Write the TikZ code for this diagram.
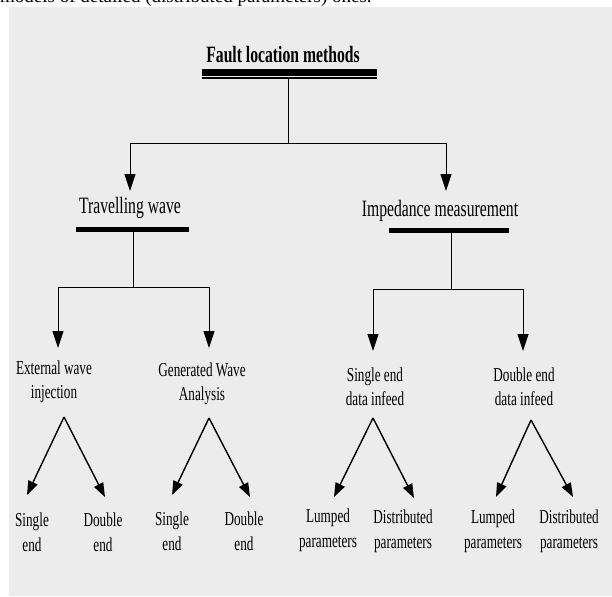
\documentclass[tikz,border=0pt]{standalone}
\usepackage{fontspec}
\setmainfont{Liberation Serif}
\newfontfamily\narrowfont{Liberation Serif}[FakeStretch=0.67]
\usetikzlibrary{arrows.meta}
\definecolor{paper}{HTML}{ECECEC}

\begin{document}
\begin{tikzpicture}[x=1pt, y=-1pt]
  \tikzstyle{caption} = [font=\fontsize{19}{22}\selectfont, anchor=base west, inner sep=0pt]
  \tikzstyle{heading} = [font=\narrowfont\fontsize{23.4}{26}\selectfont, anchor=base, inner sep=0pt]
  \tikzstyle{method} = [font=\narrowfont\fontsize{19.7}{23.5}\selectfont, align=center, anchor=base, inner sep=0pt]
  \tikzstyle{leaf} = [font=\narrowfont\fontsize{19.7}{25}\selectfont, align=center, anchor=base, inner sep=0pt]
  \tikzstyle{tree} = [line width=0.8pt]
  \tikzstyle{treearr} = [line width=0.8pt, -{Triangle[length=17pt, width=11pt]}]
  \tikzstyle{split} = [line width=1.4pt, -{Triangle[length=14pt, width=10pt]}]
  \tikzstyle{bar} = [line width=5pt]

  \useasboundingbox (0,0) rectangle (612,596);
  \clip (0,0) rectangle (612,596);
  \fill[paper] (8.6,7) rectangle (612,596);
  \node[caption] (cap) at (0,3) {models of detailed (distributed parameters) ones.};

  % top level
  \node[heading, font=\narrowfont\bfseries\fontsize{23.4}{26}\selectfont] (flm) at (283,63) {Fault location methods};
  \draw[line width=7pt] (202,72.5) -- (377,72.5);
  \draw[line width=1.5pt] (202,78.2) -- (377,78.2);
  \coordinate (flm-bar) at (288,79);
  \coordinate (flm-fork) at (288,143);

  % second level
  \node[heading] (tw) at (130,213) {Travelling wave};
  \node[heading] (im) at (440,216) {Impedance measurement};
  \coordinate (tw-in) at (130,191);
  \coordinate (im-in) at (446,191);

  \draw[tree] (flm-bar) -- (flm-fork);
  \draw[treearr] (flm-fork) -| (tw-in);
  \draw[treearr] (flm-fork) -| (im-in);

  \draw[bar] (76,229.5) -- (188.5,229.5);
  \draw[bar] (389,230.5) -- (509,230.5);
  \coordinate (tw-bar) at (133,232);
  \coordinate (tw-fork) at (133,287);
  \coordinate (im-bar) at (451,233);
  \coordinate (im-fork) at (451,289);

  % third level (base = last line)
  \node[method] (ew) at (54,398) {External wave\\injection};
  \node[method] (gw) at (202,400) {Generated Wave\\Analysis};
  \node[method] (se) at (375,405) {Single end\\data infeed};
  \node[method] (de) at (524,405) {Double end\\data infeed};
  \coordinate (ew-in) at (58,348);
  \coordinate (gw-in) at (209,348);
  \coordinate (se-in) at (373,351);
  \coordinate (de-in) at (523,351);

  \draw[tree] (tw-bar) -- (tw-fork);
  \draw[treearr] (tw-fork) -| (ew-in);
  \draw[treearr] (tw-fork) -| (gw-in);
  \draw[tree] (im-bar) -- (im-fork);
  \draw[treearr] (im-fork) -| (se-in);
  \draw[treearr] (im-fork) -| (de-in);

  % leaves
  \node[leaf] (ew-single) at (32,551) {Single\\end};
  \node[leaf] (ew-double) at (103,551) {Double\\end};
  \node[leaf] (gw-single) at (172,550) {Single\\end};
  \node[leaf] (gw-double) at (244,550) {Double\\end};
  \node[leaf] (se-lumped) at (328,547) {Lumped\\parameters};
  \node[leaf] (se-dist) at (403,548) {Distributed\\parameters};
  \node[leaf] (de-lumped) at (493,548) {Lumped\\parameters};
  \node[leaf] (de-dist) at (569,548) {Distributed\\parameters};

  \coordinate (ew-apex) at (64,417);
  \coordinate (gw-apex) at (209,418);
  \coordinate (se-apex) at (373,418);
  \coordinate (de-apex) at (531,420);
  \coordinate (ew-single-in) at (27,495);
  \coordinate (ew-double-in) at (105,497);
  \coordinate (gw-single-in) at (172,495);
  \coordinate (gw-double-in) at (250,497);
  \coordinate (se-lumped-in) at (334,497);
  \coordinate (se-dist-in) at (414,498);
  \coordinate (de-lumped-in) at (496,497);
  \coordinate (de-dist-in) at (573,497);

  \draw[split] (ew-apex) -- (ew-single-in);
  \draw[split] (ew-apex) -- (ew-double-in);
  \draw[split] (gw-apex) -- (gw-single-in);
  \draw[split] (gw-apex) -- (gw-double-in);
  \draw[split] (se-apex) -- (se-lumped-in);
  \draw[split] (se-apex) -- (se-dist-in);
  \draw[split] (de-apex) -- (de-lumped-in);
  \draw[split] (de-apex) -- (de-dist-in);
\end{tikzpicture}
\end{document}
